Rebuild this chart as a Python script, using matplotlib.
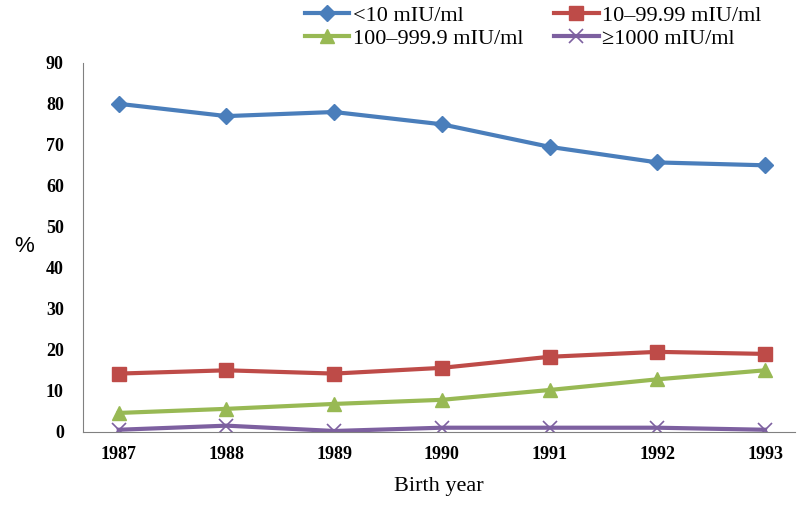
import matplotlib
matplotlib.use("Agg")
import matplotlib.pyplot as plt

# DATA
YEARS = ["1987", "1988", "1989", "1990", "1991", "1992", "1993"]
LOW = [80, 77, 78, 75, 69.5, 65.7, 65]            # <10 mIU/ml
MID = [14.2, 15, 14.2, 15.6, 18.3, 19.5, 19]      # 10-99.99 mIU/ml
HIGH = [4.6, 5.6, 6.8, 7.8, 10.2, 12.8, 15]       # 100-999.9 mIU/ml
TOP = [0.5, 1.5, 0.2, 1, 1, 1, 0.5]               # >=1000 mIU/ml
LABELS = ["<10 mIU/ml", "10\u201399.99 mIU/ml", "100\u2013999.9 mIU/ml", "\u22651000 mIU/ml"]

plt.rcParams["font.family"] = ["Liberation Serif", "DejaVu Serif"]

fig = plt.figure(figsize=(8, 5.19), dpi=100)
ax = fig.add_axes([0.104, 0.168, 0.89, 0.711])

x = range(len(YEARS))
l1, = ax.plot(x, LOW, color="#4a7ebb", lw=3, marker="D", ms=8, label=LABELS[0])
l2, = ax.plot(x, MID, color="#be4b48", lw=3, marker="s", ms=10, label=LABELS[1])
l3, = ax.plot(x, HIGH, color="#98b954", lw=3, marker="^", ms=10, label=LABELS[2])
l4, = ax.plot(x, TOP, color="#7d60a0", lw=3, marker="x", ms=10, mew=1.2, label=LABELS[3])

ax.set_xlim(-0.33, 6.28)
ax.set_ylim(0, 90)
ax.set_yticks(range(0, 91, 10))
ax.set_xticks(list(x), YEARS)
for lab in ax.get_xticklabels() + ax.get_yticklabels():
    lab.set_fontweight("bold")
    lab.set_fontsize(13)
ax.tick_params(length=0, pad=14)
ax.tick_params(axis="x", pad=10)

for s in ["top", "right"]:
    ax.spines[s].set_visible(False)
for s in ["left", "bottom"]:
    ax.spines[s].set_color("#808080")

ax.set_xlabel("Birth year", fontsize=16, labelpad=10)
fig.text(0.018, 0.525, "%", fontsize=16, va="center", family="Liberation Sans")

# row-wise legend order: matplotlib fills columns first
handles = [l1, l3, l2, l4]
fig.legend(handles, [h.get_label() for h in handles], loc="upper left",
           bbox_to_anchor=(0.381, 0.99), ncol=2, frameon=False,
           fontsize=16, handlelength=2.0, columnspacing=1.4, labelspacing=0.1,
           handletextpad=0.15, borderaxespad=0, borderpad=0)

fig.savefig("out.png", dpi=100)
